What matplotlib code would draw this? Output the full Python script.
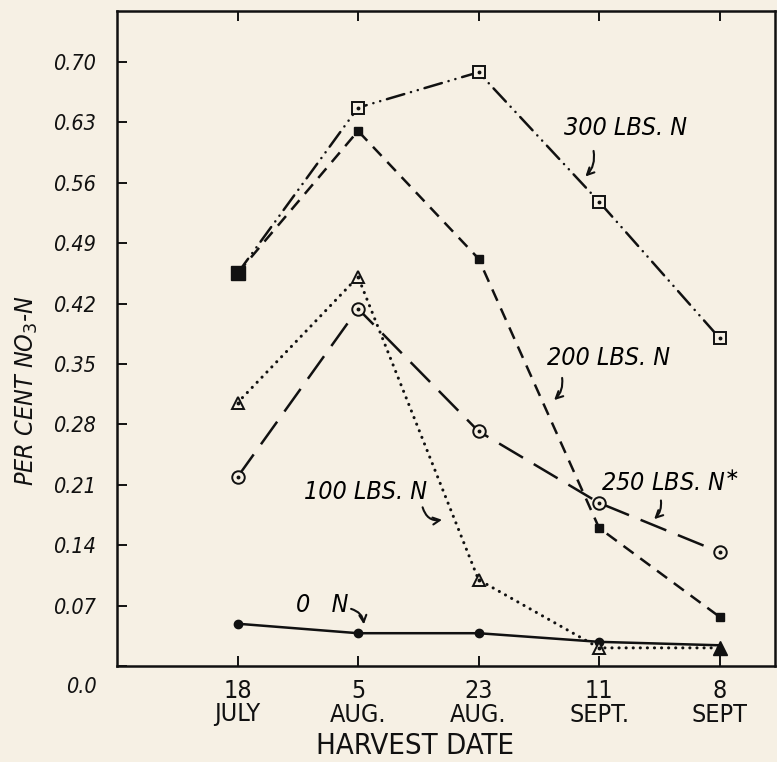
import matplotlib
matplotlib.use('Agg')
import matplotlib.pyplot as plt
import matplotlib.transforms as mtransforms

plt.rcParams['lines.scale_dashes'] = False

# harvest dates and per cent NO3-N
dates = ['18\nJULY', '5\nAUG.', '23\nAUG.', '11\nSEPT.', '8\nSEPT']
n0 = [0.049, 0.038, 0.038, 0.028, 0.024]
n100 = [0.305, 0.451, 0.100, 0.021, 0.021]
n200 = [0.455, 0.620, 0.472, 0.160, 0.057]
n250 = [0.219, 0.414, 0.272, 0.189, 0.132]
n300 = [0.455, 0.647, 0.688, 0.538, 0.380]
yticks = [0.0, 0.07, 0.14, 0.21, 0.28, 0.35, 0.42, 0.49, 0.56, 0.63, 0.70]
ylabels = ['0.0', '0.07', '0.14', '0.21', '0.28', '0.35', '0.42', '0.49', '0.56', '0.63', '0.70']

bg = '#f6f0e4'
ink = '#111111'
fnt = dict(family='DejaVu Sans', stretch='condensed')

fig = plt.figure(figsize=(7.77, 7.62), dpi=100, facecolor=bg)
ax = fig.add_axes([117/777, 1-666/762, (775-117)/777, (666-11)/762], facecolor=bg)
x = list(range(len(dates)))

def dotted_marker(xs, ys, m, s):
    ax.plot(xs, ys, ls='none', marker=m, ms=s, mfc=bg, mec=ink, mew=1.4, zorder=5)
    ax.plot(xs, ys, ls='none', marker='o', ms=1.8, color=ink, zorder=6)

# 0 N - solid
ax.plot(x, n0, color=ink, lw=1.8, marker='o', ms=6, markevery=[0, 1, 2, 3], zorder=3)
# 100 LBS - dotted
ax.plot(x, n100, color=ink, lw=2.2, dashes=(0.1, 5.0), dash_capstyle='round', zorder=2)
dotted_marker(x[:4], n100[:4], '^', 9)
ax.plot(x[4], n100[4], ls='none', marker='^', ms=10, color=ink, zorder=5)
# 200 LBS - dashed
ax.plot(x, n200, color=ink, lw=1.8, dashes=(9, 6), zorder=2)
ax.plot(x[1:], n200[1:], ls='none', marker='s', ms=6, color=ink, zorder=5)
ax.plot(x[0], n200[0], ls='none', marker='s', ms=10, color=ink, zorder=5)
# 250 LBS - long dash
ax.plot(x, n250, color=ink, lw=1.8, dashes=(20, 9), zorder=2)
dotted_marker(x, n250, 'o', 9)
# 300 LBS - dash dot dot
ax.plot(x, n300, color=ink, lw=1.8, dashes=(13, 5, 0.1, 5, 0.1, 5),
        dash_capstyle='round', zorder=2)
dotted_marker(x[1:], n300[1:], 's', 9)

# labels with curved arrows
fs = 18
arr = dict(arrowstyle='->,head_length=0.5,head_width=0.25', color=ink, lw=1.5)
ax.text(3.22, 0.623, '300 LBS. N', ha='center', va='center', fontsize=fs, style='italic', **fnt)
ax.annotate('', xy=(2.87, 0.565), xytext=(2.95, 0.600),
            arrowprops=dict(connectionstyle='arc3,rad=-0.3', **arr))
ax.text(3.08, 0.357, '200 LBS. N', ha='center', va='center', fontsize=fs, style='italic', **fnt)
ax.annotate('', xy=(2.61, 0.306), xytext=(2.69, 0.337),
            arrowprops=dict(connectionstyle='arc3,rad=-0.3', **arr))
ax.text(3.59, 0.213, r'250 LBS. N$^{\ast}$', ha='center', va='center', fontsize=fs, style='italic', **fnt)
ax.annotate('', xy=(3.44, 0.168), xytext=(3.51, 0.195),
            arrowprops=dict(connectionstyle='arc3,rad=-0.3', **arr))
ax.text(1.06, 0.202, '100 LBS. N', ha='center', va='center', fontsize=fs, style='italic', **fnt)
ax.annotate('', xy=(1.72, 0.170), xytext=(1.53, 0.187),
            arrowprops=dict(connectionstyle='arc3,rad=0.5', **arr))
ax.text(0.70, 0.071, '0   N', ha='center', va='center', fontsize=fs, style='italic', **fnt)
ax.annotate('', xy=(1.05, 0.045), xytext=(0.92, 0.067),
            arrowprops=dict(connectionstyle='arc3,rad=-0.4', **arr))

ax.set_xlim(-1, 4.46)
ax.set_ylim(0, 0.759)
ax.set_xticks(x)
ax.set_xticklabels(dates, fontsize=18, linespacing=1.0, **fnt)
ax.set_yticks(yticks)
ax.set_yticklabels(ylabels, fontsize=15.5, style='italic', **fnt)
ax.tick_params(axis='both', direction='in', length=7, width=1.4, color=ink, labelcolor=ink)
ax.tick_params(axis='x', top=True, pad=9)
ax.tick_params(axis='y', pad=15)
# the 0.0 label sits below the axis line
lab0 = ax.get_yticklabels()[0]
lab0.set_transform(lab0.get_transform() + mtransforms.ScaledTranslation(0, -0.19, fig.dpi_scale_trans))
for s in ax.spines.values():
    s.set_linewidth(1.8)
    s.set_color(ink)

fig.text(415/777, 1-746/762, 'HARVEST DATE', ha='center', va='center', fontsize=21, color=ink, **fnt)
fig.text(27/777, 1-390/762, r'PER CENT NO$_3$-N', rotation=90, ha='center', va='center',
         fontsize=18, style='italic', color=ink, **fnt)

fig.savefig('out.png', dpi=100, facecolor=bg)
